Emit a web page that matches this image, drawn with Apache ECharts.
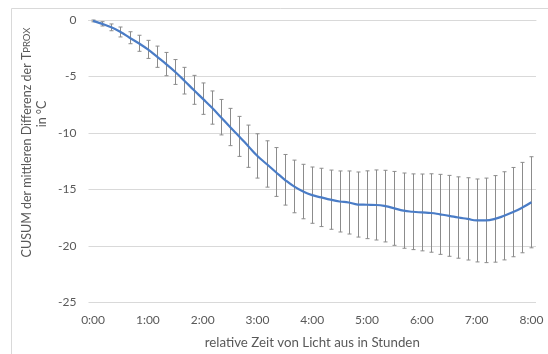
<!DOCTYPE html>
<html>
<head>
<meta charset="utf-8">
<script src="https://cdn.jsdelivr.net/npm/echarts@6/dist/echarts.min.js"></script>
<style>
  html, body { margin: 0; padding: 0; background: #ffffff; }
  #chart { width: 548px; height: 354px; }
</style>
</head>
<body>
<div id="chart"></div>
<script>
// Time since lights off, 10-minute steps
var categories = [
  '0:00','0:10','0:20','0:30','0:40','0:50',
  '1:00','1:10','1:20','1:30','1:40','1:50',
  '2:00','2:10','2:20','2:30','2:40','2:50',
  '3:00','3:10','3:20','3:30','3:40','3:50',
  '4:00','4:10','4:20','4:30','4:40','4:50',
  '5:00','5:10','5:20','5:30','5:40','5:50',
  '6:00','6:10','6:20','6:30','6:40','6:50',
  '7:00','7:10','7:20','7:30','7:40','7:50',
  '8:00'
];

// CUSUM of the mean TPROX difference (°C)
var cusumMean = [
  -0.08, -0.34, -0.65, -1.06, -1.57, -2.06,
  -2.60, -3.25, -3.90, -4.60, -5.37, -6.18,
  -6.96, -7.75, -8.60, -9.47, -10.30, -11.17,
  -12.03, -12.74, -13.45, -14.14, -14.73, -15.18,
  -15.50, -15.70, -15.90, -16.06, -16.15, -16.33,
  -16.35, -16.37, -16.47, -16.67, -16.87, -16.97,
  -17.03, -17.08, -17.20, -17.33, -17.48, -17.60,
  -17.74, -17.73, -17.60, -17.33, -17.00, -16.60,
  -16.13
];

// Half length of each error bar (°C)
var cusumError = [
  0.08, 0.19, 0.30, 0.44, 0.53, 0.71,
  0.80, 0.94, 1.03, 1.10, 1.18, 1.28,
  1.39, 1.47, 1.57, 1.65, 1.77, 1.87,
  1.96, 2.05, 2.16, 2.24, 2.33, 2.41,
  2.49, 2.58, 2.62, 2.70, 2.79, 2.88,
  3.00, 3.10, 3.17, 3.27, 3.33, 3.35,
  3.40, 3.47, 3.54, 3.58, 3.60, 3.64,
  3.67, 3.74, 3.83, 3.90, 3.95, 4.00,
  4.03
];

var yTicks = [0, -5, -10, -15, -20, -25];

var FONT = 'Lato, "Open Sans", sans-serif';
var TEXT = '#595959';
var GRID = '#d9d9d9';

var errorData = cusumMean.map(function (m, i) {
  return [i, m - cusumError[i], m + cusumError[i]];
});

var chart = echarts.init(document.getElementById('chart'), null, { renderer: 'canvas' });

chart.setOption({
  animation: false,
  backgroundColor: '#ffffff',
  grid: {
    left: 88.5, right: 12, top: 20, bottom: 51.5,
    containLabel: false,
    outerBoundsMode: 'none'
  },
  xAxis: {
    type: 'category',
    data: categories,
    boundaryGap: true,
    axisLine: { show: true, lineStyle: { color: GRID, width: 1 } },
    axisTick: { show: false },
    splitLine: { show: false },
    axisLabel: {
      interval: 5,
      color: TEXT,
      fontFamily: FONT,
      fontSize: 12,
      margin: 12
    },
    name: 'relative Zeit von Licht aus in Stunden',
    nameLocation: 'middle',
    nameGap: 34,
    nameTextStyle: { color: TEXT, fontFamily: FONT, fontSize: 13.3 }
  },
  yAxis: {
    type: 'value',
    min: yTicks[yTicks.length - 1],
    max: yTicks[0],
    interval: 5,
    axisLine: { show: false },
    axisTick: { show: false },
    splitLine: { show: true, lineStyle: { color: GRID, width: 1 } },
    axisLabel: {
      color: TEXT,
      fontFamily: FONT,
      fontSize: 12,
      margin: 12,
      formatter: function (v) { return String(v); }
    }
  },
  graphic: [
    {
      type: 'rect',
      silent: true,
      shape: { x: 11.5, y: 8.5, width: 600, height: 400 },
      style: { fill: 'none', stroke: GRID, lineWidth: 1 },
      z: -10
    },
    {
      type: 'text',
      silent: true,
      x: 27,
      y: 142.5,
      rotation: Math.PI / 2,
      style: {
        text: '{a|CUSUM der mittleren Differenz der T}{b|PROX}',
        align: 'center',
        verticalAlign: 'middle',
        rich: {
          a: { fontFamily: FONT, fontSize: 12.5, fill: TEXT },
          b: { fontFamily: FONT, fontSize: 9.5, fill: TEXT }
        }
      }
    },
    {
      type: 'text',
      silent: true,
      x: 42,
      y: 114,
      rotation: Math.PI / 2,
      style: {
        text: 'in °C',
        align: 'center',
        verticalAlign: 'middle',
        fontFamily: FONT,
        fontSize: 12.5,
        fill: TEXT
      }
    }
  ],
  series: [
    {
      type: 'custom',
      name: 'Fehlerbalken',
      z: 2,
      data: errorData,
      encode: { x: 0, y: [1, 2] },
      renderItem: function (params, api) {
        var i = api.value(0);
        var lo = api.coord([i, api.value(1)]);
        var hi = api.coord([i, api.value(2)]);
        var x = Math.round(lo[0]) + 0.5;
        var cap = 2;
        var style = { stroke: '#8c8c8c', lineWidth: 1 };
        return {
          type: 'group',
          children: [
            { type: 'line', shape: { x1: x, y1: hi[1], x2: x, y2: lo[1] }, style: style },
            { type: 'line', shape: { x1: x - cap, y1: hi[1], x2: x + cap, y2: hi[1] }, style: style },
            { type: 'line', shape: { x1: x - cap, y1: lo[1], x2: x + cap, y2: lo[1] }, style: style }
          ]
        };
      }
    },
    {
      type: 'line',
      name: 'CUSUM',
      z: 3,
      data: cusumMean,
      smooth: 0.5,
      showSymbol: false,
      symbol: 'none',
      lineStyle: { color: '#4a7cc6', width: 2.2 }
    }
  ]
});
</script>
</body>
</html>
